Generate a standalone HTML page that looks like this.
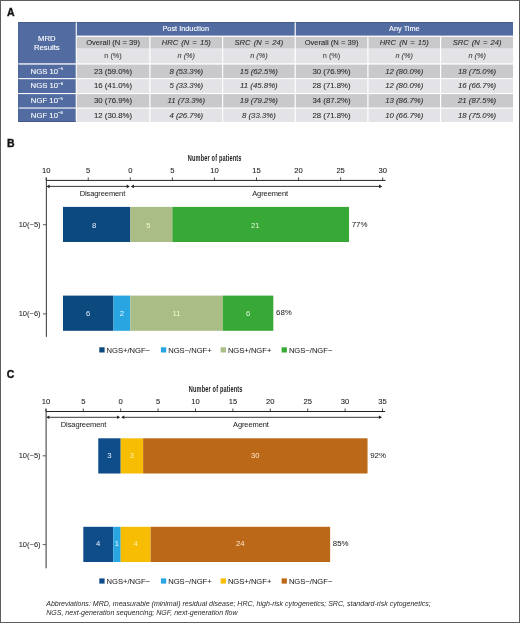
<!DOCTYPE html>
<html><head><meta charset="utf-8"><style>
html,body{margin:0;padding:0;background:#fff;}
body{width:520px;height:623px;overflow:hidden;position:relative;}
#fr{position:absolute;left:0;top:0;width:518px;height:621px;border:1px solid #5e5e5e;}
svg{position:absolute;left:0;top:0;font-family:"Liberation Sans", sans-serif;filter:blur(0.3px);}
</style></head><body><div id="fr"></div>
<svg width="520" height="623" viewBox="0 0 520 623">
<rect x="18" y="22" width="57.70" height="41.30" fill="#526ca2"/>
<rect x="76.8" y="22" width="217.80" height="13.60" fill="#526ca2"/>
<rect x="295.8" y="22" width="217.20" height="13.60" fill="#526ca2"/>
<rect x="76.8" y="36.9" width="72.50" height="11.70" fill="#c9c9cc"/>
<rect x="76.8" y="49.1" width="72.50" height="14.20" fill="#e3e3e7"/>
<rect x="150.5" y="36.9" width="71.60" height="11.70" fill="#c9c9cc"/>
<rect x="150.5" y="49.1" width="71.60" height="14.20" fill="#e3e3e7"/>
<rect x="223.2" y="36.9" width="71.40" height="11.70" fill="#c9c9cc"/>
<rect x="223.2" y="49.1" width="71.40" height="14.20" fill="#e3e3e7"/>
<rect x="295.8" y="36.9" width="71.50" height="11.70" fill="#c9c9cc"/>
<rect x="295.8" y="49.1" width="71.50" height="14.20" fill="#e3e3e7"/>
<rect x="368.5" y="36.9" width="71.50" height="11.70" fill="#c9c9cc"/>
<rect x="368.5" y="49.1" width="71.50" height="14.20" fill="#e3e3e7"/>
<rect x="441.2" y="36.9" width="71.80" height="11.70" fill="#c9c9cc"/>
<rect x="441.2" y="49.1" width="71.80" height="14.20" fill="#e3e3e7"/>
<rect x="18" y="64.6" width="57.70" height="13.50" fill="#526ca2"/>
<rect x="76.8" y="64.6" width="72.50" height="13.50" fill="#c9c9cc"/>
<rect x="150.5" y="64.6" width="71.60" height="13.50" fill="#c9c9cc"/>
<rect x="223.2" y="64.6" width="71.40" height="13.50" fill="#c9c9cc"/>
<rect x="295.8" y="64.6" width="71.50" height="13.50" fill="#c9c9cc"/>
<rect x="368.5" y="64.6" width="71.50" height="13.50" fill="#c9c9cc"/>
<rect x="441.2" y="64.6" width="71.80" height="13.50" fill="#c9c9cc"/>
<rect x="18" y="79.2" width="57.70" height="13.80" fill="#526ca2"/>
<rect x="76.8" y="79.2" width="72.50" height="13.80" fill="#e3e3e7"/>
<rect x="150.5" y="79.2" width="71.60" height="13.80" fill="#e3e3e7"/>
<rect x="223.2" y="79.2" width="71.40" height="13.80" fill="#e3e3e7"/>
<rect x="295.8" y="79.2" width="71.50" height="13.80" fill="#e3e3e7"/>
<rect x="368.5" y="79.2" width="71.50" height="13.80" fill="#e3e3e7"/>
<rect x="441.2" y="79.2" width="71.80" height="13.80" fill="#e3e3e7"/>
<rect x="18" y="94.1" width="57.70" height="13.40" fill="#526ca2"/>
<rect x="76.8" y="94.1" width="72.50" height="13.40" fill="#c9c9cc"/>
<rect x="150.5" y="94.1" width="71.60" height="13.40" fill="#c9c9cc"/>
<rect x="223.2" y="94.1" width="71.40" height="13.40" fill="#c9c9cc"/>
<rect x="295.8" y="94.1" width="71.50" height="13.40" fill="#c9c9cc"/>
<rect x="368.5" y="94.1" width="71.50" height="13.40" fill="#c9c9cc"/>
<rect x="441.2" y="94.1" width="71.80" height="13.40" fill="#c9c9cc"/>
<rect x="18" y="108.6" width="57.70" height="13.40" fill="#526ca2"/>
<rect x="76.8" y="108.6" width="72.50" height="13.40" fill="#e3e3e7"/>
<rect x="150.5" y="108.6" width="71.60" height="13.40" fill="#e3e3e7"/>
<rect x="223.2" y="108.6" width="71.40" height="13.40" fill="#e3e3e7"/>
<rect x="295.8" y="108.6" width="71.50" height="13.40" fill="#e3e3e7"/>
<rect x="368.5" y="108.6" width="71.50" height="13.40" fill="#e3e3e7"/>
<rect x="441.2" y="108.6" width="71.80" height="13.40" fill="#e3e3e7"/>
<rect x="18" y="22" width="57.70" height="1.10" fill="#485d89"/>
<rect x="76.8" y="22" width="217.80" height="1.10" fill="#485d89"/>
<rect x="295.8" y="22" width="217.20" height="1.10" fill="#485d89"/>
<rect x="18" y="121.0" width="57.70" height="1.00" fill="#44598a"/>
<rect x="18" y="22" width="1.30" height="41.30" fill="#4d6598"/>
<rect x="18" y="64.6" width="1.30" height="13.50" fill="#4d6598"/>
<rect x="18" y="79.2" width="1.30" height="13.80" fill="#4d6598"/>
<rect x="18" y="94.1" width="1.30" height="13.40" fill="#4d6598"/>
<rect x="18" y="108.6" width="1.30" height="13.40" fill="#4d6598"/>
<text x="46.85" y="40.7" font-size="7.7" fill="#fff" stroke="#fff" stroke-width="0.12" text-anchor="middle" font-weight="normal" >MRD</text>
<text x="46.85" y="49.8" font-size="7.7" fill="#fff" stroke="#fff" stroke-width="0.12" text-anchor="middle" font-weight="normal" >Results</text>
<text x="185.70000000000002" y="31.0" font-size="7.35" fill="#fff" stroke="#fff" stroke-width="0.1" text-anchor="middle" font-weight="normal" >Post Induction</text>
<text x="404.4" y="31.0" font-size="7.35" fill="#fff" stroke="#fff" stroke-width="0.1" text-anchor="middle" font-weight="normal" >Any Time</text>
<text x="113.05000000000001" y="45.4" font-size="7.6" fill="#2e2e2e" stroke="#2e2e2e" stroke-width="0.1" text-anchor="middle" font-weight="normal" >Overall (N = 39)</text>
<text x="113.05000000000001" y="58.2" font-size="7.3" fill="#444" stroke="#444" stroke-width="0.1" text-anchor="middle" font-weight="normal" >n (%)</text>
<text x="186.3" y="45.4" font-size="7.6" fill="#2e2e2e" stroke="#2e2e2e" stroke-width="0.1" text-anchor="middle" font-weight="normal" font-style="italic" word-spacing="1px">HRC (N = 15)</text>
<text x="186.3" y="58.2" font-size="7.3" fill="#444" stroke="#444" stroke-width="0.1" text-anchor="middle" font-weight="normal" font-style="italic" >n (%)</text>
<text x="258.9" y="45.4" font-size="7.6" fill="#2e2e2e" stroke="#2e2e2e" stroke-width="0.1" text-anchor="middle" font-weight="normal" font-style="italic" word-spacing="1px">SRC (N = 24)</text>
<text x="258.9" y="58.2" font-size="7.3" fill="#444" stroke="#444" stroke-width="0.1" text-anchor="middle" font-weight="normal" font-style="italic" >n (%)</text>
<text x="331.55" y="45.4" font-size="7.6" fill="#2e2e2e" stroke="#2e2e2e" stroke-width="0.1" text-anchor="middle" font-weight="normal" >Overall (N = 39)</text>
<text x="331.55" y="58.2" font-size="7.3" fill="#444" stroke="#444" stroke-width="0.1" text-anchor="middle" font-weight="normal" >n (%)</text>
<text x="404.25" y="45.4" font-size="7.6" fill="#2e2e2e" stroke="#2e2e2e" stroke-width="0.1" text-anchor="middle" font-weight="normal" font-style="italic" word-spacing="1px">HRC (N = 15)</text>
<text x="404.25" y="58.2" font-size="7.3" fill="#444" stroke="#444" stroke-width="0.1" text-anchor="middle" font-weight="normal" font-style="italic" >n (%)</text>
<text x="477.1" y="45.4" font-size="7.6" fill="#2e2e2e" stroke="#2e2e2e" stroke-width="0.1" text-anchor="middle" font-weight="normal" font-style="italic" word-spacing="1px">SRC (N = 24)</text>
<text x="477.1" y="58.2" font-size="7.3" fill="#444" stroke="#444" stroke-width="0.1" text-anchor="middle" font-weight="normal" font-style="italic" >n (%)</text>
<text x="46.85" y="73.5" font-size="7.75" fill="#fff" stroke="#fff" stroke-width="0.1" text-anchor="middle">NGS 10<tspan font-size="4.3" dy="-3.2">−5</tspan></text>
<text x="113.05000000000001" y="73.5" font-size="7.8" fill="#2e2e2e" stroke="#2e2e2e" stroke-width="0.1" text-anchor="middle" font-weight="normal" >23 (59.0%)</text>
<text x="186.3" y="73.5" font-size="7.8" fill="#2e2e2e" stroke="#2e2e2e" stroke-width="0.1" text-anchor="middle" font-weight="normal" font-style="italic" >8 (53.3%)</text>
<text x="258.9" y="73.5" font-size="7.8" fill="#2e2e2e" stroke="#2e2e2e" stroke-width="0.1" text-anchor="middle" font-weight="normal" font-style="italic" >15 (62.5%)</text>
<text x="331.55" y="73.5" font-size="7.8" fill="#2e2e2e" stroke="#2e2e2e" stroke-width="0.1" text-anchor="middle" font-weight="normal" >30 (76.9%)</text>
<text x="404.25" y="73.5" font-size="7.8" fill="#2e2e2e" stroke="#2e2e2e" stroke-width="0.1" text-anchor="middle" font-weight="normal" font-style="italic" >12 (80.0%)</text>
<text x="477.1" y="73.5" font-size="7.8" fill="#2e2e2e" stroke="#2e2e2e" stroke-width="0.1" text-anchor="middle" font-weight="normal" font-style="italic" >18 (75.0%)</text>
<text x="46.85" y="88.2" font-size="7.75" fill="#fff" stroke="#fff" stroke-width="0.1" text-anchor="middle">NGS 10<tspan font-size="4.3" dy="-3.2">−6</tspan></text>
<text x="113.05000000000001" y="88.2" font-size="7.8" fill="#2e2e2e" stroke="#2e2e2e" stroke-width="0.1" text-anchor="middle" font-weight="normal" >16 (41.0%)</text>
<text x="186.3" y="88.2" font-size="7.8" fill="#2e2e2e" stroke="#2e2e2e" stroke-width="0.1" text-anchor="middle" font-weight="normal" font-style="italic" >5 (33.3%)</text>
<text x="258.9" y="88.2" font-size="7.8" fill="#2e2e2e" stroke="#2e2e2e" stroke-width="0.1" text-anchor="middle" font-weight="normal" font-style="italic" >11 (45.8%)</text>
<text x="331.55" y="88.2" font-size="7.8" fill="#2e2e2e" stroke="#2e2e2e" stroke-width="0.1" text-anchor="middle" font-weight="normal" >28 (71.8%)</text>
<text x="404.25" y="88.2" font-size="7.8" fill="#2e2e2e" stroke="#2e2e2e" stroke-width="0.1" text-anchor="middle" font-weight="normal" font-style="italic" >12 (80.0%)</text>
<text x="477.1" y="88.2" font-size="7.8" fill="#2e2e2e" stroke="#2e2e2e" stroke-width="0.1" text-anchor="middle" font-weight="normal" font-style="italic" >16 (66.7%)</text>
<text x="46.85" y="103.1" font-size="7.75" fill="#fff" stroke="#fff" stroke-width="0.1" text-anchor="middle">NGF 10<tspan font-size="4.3" dy="-3.2">−5</tspan></text>
<text x="113.05000000000001" y="103.1" font-size="7.8" fill="#2e2e2e" stroke="#2e2e2e" stroke-width="0.1" text-anchor="middle" font-weight="normal" >30 (76.9%)</text>
<text x="186.3" y="103.1" font-size="7.8" fill="#2e2e2e" stroke="#2e2e2e" stroke-width="0.1" text-anchor="middle" font-weight="normal" font-style="italic" >11 (73.3%)</text>
<text x="258.9" y="103.1" font-size="7.8" fill="#2e2e2e" stroke="#2e2e2e" stroke-width="0.1" text-anchor="middle" font-weight="normal" font-style="italic" >19 (79.2%)</text>
<text x="331.55" y="103.1" font-size="7.8" fill="#2e2e2e" stroke="#2e2e2e" stroke-width="0.1" text-anchor="middle" font-weight="normal" >34 (87.2%)</text>
<text x="404.25" y="103.1" font-size="7.8" fill="#2e2e2e" stroke="#2e2e2e" stroke-width="0.1" text-anchor="middle" font-weight="normal" font-style="italic" >13 (86.7%)</text>
<text x="477.1" y="103.1" font-size="7.8" fill="#2e2e2e" stroke="#2e2e2e" stroke-width="0.1" text-anchor="middle" font-weight="normal" font-style="italic" >21 (87.5%)</text>
<text x="46.85" y="117.5" font-size="7.75" fill="#fff" stroke="#fff" stroke-width="0.1" text-anchor="middle">NGF 10<tspan font-size="4.3" dy="-3.2">−6</tspan></text>
<text x="113.05000000000001" y="117.5" font-size="7.8" fill="#2e2e2e" stroke="#2e2e2e" stroke-width="0.1" text-anchor="middle" font-weight="normal" >12 (30.8%)</text>
<text x="186.3" y="117.5" font-size="7.8" fill="#2e2e2e" stroke="#2e2e2e" stroke-width="0.1" text-anchor="middle" font-weight="normal" font-style="italic" >4 (26.7%)</text>
<text x="258.9" y="117.5" font-size="7.8" fill="#2e2e2e" stroke="#2e2e2e" stroke-width="0.1" text-anchor="middle" font-weight="normal" font-style="italic" >8 (33.3%)</text>
<text x="331.55" y="117.5" font-size="7.8" fill="#2e2e2e" stroke="#2e2e2e" stroke-width="0.1" text-anchor="middle" font-weight="normal" >28 (71.8%)</text>
<text x="404.25" y="117.5" font-size="7.8" fill="#2e2e2e" stroke="#2e2e2e" stroke-width="0.1" text-anchor="middle" font-weight="normal" font-style="italic" >10 (66.7%)</text>
<text x="477.1" y="117.5" font-size="7.8" fill="#2e2e2e" stroke="#2e2e2e" stroke-width="0.1" text-anchor="middle" font-weight="normal" font-style="italic" >18 (75.0%)</text>
<text x="7" y="15.8" font-size="10.5" fill="#111" stroke="#111" stroke-width="0.35" text-anchor="start" font-weight="bold" >A</text>
<text x="7" y="147" font-size="10.5" fill="#111" stroke="#111" stroke-width="0.35" text-anchor="start" font-weight="bold" >B</text>
<text x="6.8" y="378.2" font-size="10.5" fill="#111" stroke="#111" stroke-width="0.35" text-anchor="start" font-weight="bold" >C</text>
<line x1="46.170000000000016" y1="180.4" x2="385.6" y2="180.4" stroke="#222" stroke-width="1"/>
<line x1="46.170000000000016" y1="177.4" x2="46.170000000000016" y2="180.4" stroke="#222" stroke-width="0.8"/>
<text x="46.170000000000016" y="172.6" font-size="7.6" fill="#222" stroke="#222" stroke-width="0.08" text-anchor="middle" font-weight="normal" >10</text>
<line x1="88.23500000000001" y1="177.4" x2="88.23500000000001" y2="180.4" stroke="#222" stroke-width="0.8"/>
<text x="88.23500000000001" y="172.6" font-size="7.6" fill="#222" stroke="#222" stroke-width="0.08" text-anchor="middle" font-weight="normal" >5</text>
<line x1="130.3" y1="177.4" x2="130.3" y2="180.4" stroke="#222" stroke-width="0.8"/>
<text x="130.3" y="172.6" font-size="7.6" fill="#222" stroke="#222" stroke-width="0.08" text-anchor="middle" font-weight="normal" >0</text>
<line x1="172.365" y1="177.4" x2="172.365" y2="180.4" stroke="#222" stroke-width="0.8"/>
<text x="172.365" y="172.6" font-size="7.6" fill="#222" stroke="#222" stroke-width="0.08" text-anchor="middle" font-weight="normal" >5</text>
<line x1="214.43" y1="177.4" x2="214.43" y2="180.4" stroke="#222" stroke-width="0.8"/>
<text x="214.43" y="172.6" font-size="7.6" fill="#222" stroke="#222" stroke-width="0.08" text-anchor="middle" font-weight="normal" >10</text>
<line x1="256.495" y1="177.4" x2="256.495" y2="180.4" stroke="#222" stroke-width="0.8"/>
<text x="256.495" y="172.6" font-size="7.6" fill="#222" stroke="#222" stroke-width="0.08" text-anchor="middle" font-weight="normal" >15</text>
<line x1="298.56" y1="177.4" x2="298.56" y2="180.4" stroke="#222" stroke-width="0.8"/>
<text x="298.56" y="172.6" font-size="7.6" fill="#222" stroke="#222" stroke-width="0.08" text-anchor="middle" font-weight="normal" >20</text>
<line x1="340.625" y1="177.4" x2="340.625" y2="180.4" stroke="#222" stroke-width="0.8"/>
<text x="340.625" y="172.6" font-size="7.6" fill="#222" stroke="#222" stroke-width="0.08" text-anchor="middle" font-weight="normal" >25</text>
<line x1="382.69000000000005" y1="177.4" x2="382.69000000000005" y2="180.4" stroke="#222" stroke-width="0.8"/>
<text x="382.69000000000005" y="172.6" font-size="7.6" fill="#222" stroke="#222" stroke-width="0.08" text-anchor="middle" font-weight="normal" >30</text>
<line x1="46.37000000000002" y1="177.70000000000002" x2="46.37000000000002" y2="336.9" stroke="#333" stroke-width="1"/>
<text x="0" y="0" font-size="8.9" font-weight="bold" fill="#222" letter-spacing="0.25" text-anchor="middle" transform="translate(214.7,160.6) scale(0.63,1)">Number of patients</text>
<line x1="48.170000000000016" y1="186.4" x2="128.3" y2="186.4" stroke="#222" stroke-width="0.9"/>
<path d="M46.47000000000001 186.4 l3.1 -1.8 v3.6 z" fill="#222"/>
<path d="M129.8 186.4 l-3.1 -1.8 v3.6 z" fill="#222"/>
<line x1="132.3" y1="186.4" x2="381.19000000000005" y2="186.4" stroke="#222" stroke-width="0.9"/>
<path d="M130.8 186.4 l3.1 -1.8 v3.6 z" fill="#222"/>
<path d="M382.19000000000005 186.4 l-3.1 -1.8 v3.6 z" fill="#222"/>
<text x="79.7" y="195.9" font-size="7.5" fill="#2a2a2a" stroke="#2a2a2a" stroke-width="0.05" text-anchor="start" font-weight="normal" letter-spacing="-0.1">Disagreement</text>
<text x="252.2" y="195.9" font-size="7.5" fill="#2a2a2a" stroke="#2a2a2a" stroke-width="0.05" text-anchor="start" font-weight="normal" letter-spacing="-0.1">Agreement</text>
<rect x="63.0" y="206.9" width="67.30" height="35.10" fill="#0c497f"/>
<text x="94.2" y="228.1" font-size="7.7" fill="#e8f0ff" stroke="#e8f0ff" stroke-width="0" text-anchor="middle" font-weight="normal" >8</text>
<rect x="130.3" y="206.9" width="42.07" height="35.10" fill="#aabd86"/>
<text x="148.3" y="228.1" font-size="7.7" fill="#f2f6d2" stroke="#f2f6d2" stroke-width="0" text-anchor="middle" font-weight="normal" >5</text>
<rect x="172.37" y="206.9" width="176.67" height="35.10" fill="#38a936"/>
<text x="255.2" y="228.1" font-size="7.7" fill="#e6f6e0" stroke="#e6f6e0" stroke-width="0" text-anchor="middle" font-weight="normal" >21</text>
<text x="351.738" y="227.0" font-size="7.9" fill="#222" stroke="#222" stroke-width="0.03" text-anchor="start" font-weight="normal" >77%</text>
<rect x="63.0" y="295.6" width="50.47" height="35.20" fill="#0c497f"/>
<text x="88.24" y="315.59999999999997" font-size="7.7" fill="#e8f0ff" stroke="#e8f0ff" stroke-width="0" text-anchor="middle" font-weight="normal" >6</text>
<rect x="113.47" y="295.6" width="16.83" height="35.20" fill="#29a6e2"/>
<text x="121.89" y="315.59999999999997" font-size="7.7" fill="#e8f8ff" stroke="#e8f8ff" stroke-width="0" text-anchor="middle" font-weight="normal" >2</text>
<rect x="130.3" y="295.6" width="92.54" height="35.20" fill="#aabd86"/>
<text x="176.57" y="315.59999999999997" font-size="7.7" fill="#f2f6d2" stroke="#f2f6d2" stroke-width="0" text-anchor="middle" font-weight="normal" >11</text>
<rect x="222.84" y="295.6" width="50.48" height="35.20" fill="#38a936"/>
<text x="248.08" y="315.59999999999997" font-size="7.7" fill="#e6f6e0" stroke="#e6f6e0" stroke-width="0" text-anchor="middle" font-weight="normal" >6</text>
<text x="276.021" y="315.4" font-size="7.9" fill="#222" stroke="#222" stroke-width="0.03" text-anchor="start" font-weight="normal" >68%</text>
<text x="40.6" y="226.79999999999998" font-size="7.5" fill="#222" stroke="#222" stroke-width="0.05" text-anchor="end" font-weight="normal" >10(−5)</text>
<line x1="42.97000000000001" y1="224.7" x2="46.170000000000016" y2="224.7" stroke="#333" stroke-width="0.8"/>
<text x="40.6" y="316.0" font-size="7.5" fill="#222" stroke="#222" stroke-width="0.05" text-anchor="end" font-weight="normal" >10(−6)</text>
<line x1="42.97000000000001" y1="313.90000000000003" x2="46.170000000000016" y2="313.90000000000003" stroke="#333" stroke-width="0.8"/>
<rect x="99.3" y="347.3" width="5.30" height="5.20" fill="#0c497f"/>
<text x="106.6" y="352.5" font-size="7.6" fill="#222" stroke="#222" stroke-width="0.05" text-anchor="start" font-weight="normal" >NGS+/NGF−</text>
<rect x="160.9" y="347.3" width="5.30" height="5.20" fill="#29a6e2"/>
<text x="168.20000000000002" y="352.5" font-size="7.6" fill="#222" stroke="#222" stroke-width="0.05" text-anchor="start" font-weight="normal" >NGS−/NGF+</text>
<rect x="220.6" y="347.3" width="5.30" height="5.20" fill="#aabd86"/>
<text x="227.9" y="352.5" font-size="7.6" fill="#222" stroke="#222" stroke-width="0.05" text-anchor="start" font-weight="normal" >NGS+/NGF+</text>
<rect x="281.6" y="347.3" width="5.30" height="5.20" fill="#38a936"/>
<text x="288.90000000000003" y="352.5" font-size="7.6" fill="#222" stroke="#222" stroke-width="0.05" text-anchor="start" font-weight="normal" >NGS−/NGF−</text>
<line x1="45.89999999999999" y1="411.5" x2="385.2" y2="411.5" stroke="#222" stroke-width="1"/>
<line x1="45.89999999999999" y1="408.5" x2="45.89999999999999" y2="411.5" stroke="#222" stroke-width="0.8"/>
<text x="45.89999999999999" y="403.8" font-size="7.6" fill="#222" stroke="#222" stroke-width="0.08" text-anchor="middle" font-weight="normal" >10</text>
<line x1="83.3" y1="408.5" x2="83.3" y2="411.5" stroke="#222" stroke-width="0.8"/>
<text x="83.3" y="403.8" font-size="7.6" fill="#222" stroke="#222" stroke-width="0.08" text-anchor="middle" font-weight="normal" >5</text>
<line x1="120.7" y1="408.5" x2="120.7" y2="411.5" stroke="#222" stroke-width="0.8"/>
<text x="120.7" y="403.8" font-size="7.6" fill="#222" stroke="#222" stroke-width="0.08" text-anchor="middle" font-weight="normal" >0</text>
<line x1="158.10000000000002" y1="408.5" x2="158.10000000000002" y2="411.5" stroke="#222" stroke-width="0.8"/>
<text x="158.10000000000002" y="403.8" font-size="7.6" fill="#222" stroke="#222" stroke-width="0.08" text-anchor="middle" font-weight="normal" >5</text>
<line x1="195.5" y1="408.5" x2="195.5" y2="411.5" stroke="#222" stroke-width="0.8"/>
<text x="195.5" y="403.8" font-size="7.6" fill="#222" stroke="#222" stroke-width="0.08" text-anchor="middle" font-weight="normal" >10</text>
<line x1="232.9" y1="408.5" x2="232.9" y2="411.5" stroke="#222" stroke-width="0.8"/>
<text x="232.9" y="403.8" font-size="7.6" fill="#222" stroke="#222" stroke-width="0.08" text-anchor="middle" font-weight="normal" >15</text>
<line x1="270.3" y1="408.5" x2="270.3" y2="411.5" stroke="#222" stroke-width="0.8"/>
<text x="270.3" y="403.8" font-size="7.6" fill="#222" stroke="#222" stroke-width="0.08" text-anchor="middle" font-weight="normal" >20</text>
<line x1="307.7" y1="408.5" x2="307.7" y2="411.5" stroke="#222" stroke-width="0.8"/>
<text x="307.7" y="403.8" font-size="7.6" fill="#222" stroke="#222" stroke-width="0.08" text-anchor="middle" font-weight="normal" >25</text>
<line x1="345.1" y1="408.5" x2="345.1" y2="411.5" stroke="#222" stroke-width="0.8"/>
<text x="345.1" y="403.8" font-size="7.6" fill="#222" stroke="#222" stroke-width="0.08" text-anchor="middle" font-weight="normal" >30</text>
<line x1="382.5" y1="408.5" x2="382.5" y2="411.5" stroke="#222" stroke-width="0.8"/>
<text x="382.5" y="403.8" font-size="7.6" fill="#222" stroke="#222" stroke-width="0.08" text-anchor="middle" font-weight="normal" >35</text>
<line x1="46.099999999999994" y1="408.8" x2="46.099999999999994" y2="568.3" stroke="#333" stroke-width="1"/>
<text x="0" y="0" font-size="8.9" font-weight="bold" fill="#222" letter-spacing="0.25" text-anchor="middle" transform="translate(215.7,391.8) scale(0.63,1)">Number of patients</text>
<line x1="47.89999999999999" y1="417.3" x2="118.7" y2="417.3" stroke="#222" stroke-width="0.9"/>
<path d="M46.19999999999999 417.3 l3.1 -1.8 v3.6 z" fill="#222"/>
<path d="M120.2 417.3 l-3.1 -1.8 v3.6 z" fill="#222"/>
<line x1="122.7" y1="417.3" x2="381.0" y2="417.3" stroke="#222" stroke-width="0.9"/>
<path d="M121.2 417.3 l3.1 -1.8 v3.6 z" fill="#222"/>
<path d="M382.0 417.3 l-3.1 -1.8 v3.6 z" fill="#222"/>
<text x="60.8" y="427.3" font-size="7.5" fill="#2a2a2a" stroke="#2a2a2a" stroke-width="0.05" text-anchor="start" font-weight="normal" letter-spacing="-0.1">Disagreement</text>
<text x="233" y="427.3" font-size="7.5" fill="#2a2a2a" stroke="#2a2a2a" stroke-width="0.05" text-anchor="start" font-weight="normal" letter-spacing="-0.1">Agreement</text>
<rect x="98.26" y="438.3" width="22.44" height="35.20" fill="#0e4d8a"/>
<text x="109.48" y="457.8" font-size="7.7" fill="#e8f0ff" stroke="#e8f0ff" stroke-width="0" text-anchor="middle" font-weight="normal" >3</text>
<rect x="120.7" y="438.3" width="22.44" height="35.20" fill="#f6bd02"/>
<text x="131.92" y="457.8" font-size="7.7" fill="#fff0a8" stroke="#fff0a8" stroke-width="0" text-anchor="middle" font-weight="normal" >3</text>
<rect x="143.14" y="438.3" width="224.40" height="35.20" fill="#bb6918"/>
<text x="255.34" y="457.8" font-size="7.7" fill="#ffe6c8" stroke="#ffe6c8" stroke-width="0" text-anchor="middle" font-weight="normal" >30</text>
<text x="370.24" y="458.3" font-size="7.9" fill="#222" stroke="#222" stroke-width="0.03" text-anchor="start" font-weight="normal" >92%</text>
<rect x="83.3" y="526.8" width="29.92" height="35.20" fill="#0e4d8a"/>
<text x="98.26" y="546.3000000000001" font-size="7.7" fill="#e8f0ff" stroke="#e8f0ff" stroke-width="0" text-anchor="middle" font-weight="normal" >4</text>
<rect x="113.22" y="526.8" width="7.48" height="35.20" fill="#29a6e2"/>
<text x="116.96" y="546.3000000000001" font-size="7.7" fill="#e8f8ff" stroke="#e8f8ff" stroke-width="0" text-anchor="middle" font-weight="normal" >1</text>
<rect x="120.7" y="526.8" width="29.92" height="35.20" fill="#f6bd02"/>
<text x="135.66" y="546.3000000000001" font-size="7.7" fill="#fff0a8" stroke="#fff0a8" stroke-width="0" text-anchor="middle" font-weight="normal" >4</text>
<rect x="150.62" y="526.8" width="179.52" height="35.20" fill="#bb6918"/>
<text x="240.38" y="546.3000000000001" font-size="7.7" fill="#ffe6c8" stroke="#ffe6c8" stroke-width="0" text-anchor="middle" font-weight="normal" >24</text>
<text x="332.84" y="546.2" font-size="7.9" fill="#222" stroke="#222" stroke-width="0.03" text-anchor="start" font-weight="normal" >85%</text>
<text x="40.6" y="457.9" font-size="7.5" fill="#222" stroke="#222" stroke-width="0.05" text-anchor="end" font-weight="normal" >10(−5)</text>
<line x1="42.69999999999999" y1="455.8" x2="45.89999999999999" y2="455.8" stroke="#333" stroke-width="0.8"/>
<text x="40.6" y="546.7" font-size="7.5" fill="#222" stroke="#222" stroke-width="0.05" text-anchor="end" font-weight="normal" >10(−6)</text>
<line x1="42.69999999999999" y1="544.6" x2="45.89999999999999" y2="544.6" stroke="#333" stroke-width="0.8"/>
<rect x="99.3" y="578.4" width="5.30" height="5.20" fill="#0e4d8a"/>
<text x="106.6" y="583.6" font-size="7.6" fill="#222" stroke="#222" stroke-width="0.05" text-anchor="start" font-weight="normal" >NGS+/NGF−</text>
<rect x="160.9" y="578.4" width="5.30" height="5.20" fill="#29a6e2"/>
<text x="168.20000000000002" y="583.6" font-size="7.6" fill="#222" stroke="#222" stroke-width="0.05" text-anchor="start" font-weight="normal" >NGS−/NGF+</text>
<rect x="220.6" y="578.4" width="5.30" height="5.20" fill="#f6bd02"/>
<text x="227.9" y="583.6" font-size="7.6" fill="#222" stroke="#222" stroke-width="0.05" text-anchor="start" font-weight="normal" >NGS+/NGF+</text>
<rect x="281.6" y="578.4" width="5.30" height="5.20" fill="#bb6918"/>
<text x="288.90000000000003" y="583.6" font-size="7.6" fill="#222" stroke="#222" stroke-width="0.05" text-anchor="start" font-weight="normal" >NGS−/NGF−</text>
<text x="46.2" y="606.3" font-size="7.05" fill="#2a2a2a" stroke="#2a2a2a" stroke-width="0" text-anchor="start" font-weight="normal" font-style="italic" >Abbreviations: MRD, measurable (minimal) residual disease; HRC, high-risk cytogenetics; SRC, standard-risk cytogenetics;</text>
<text x="46.2" y="615.2" font-size="7.05" fill="#2a2a2a" stroke="#2a2a2a" stroke-width="0" text-anchor="start" font-weight="normal" font-style="italic" >NGS, next-generation sequencing; NGF, next-generation flow</text>
</svg></body></html>
